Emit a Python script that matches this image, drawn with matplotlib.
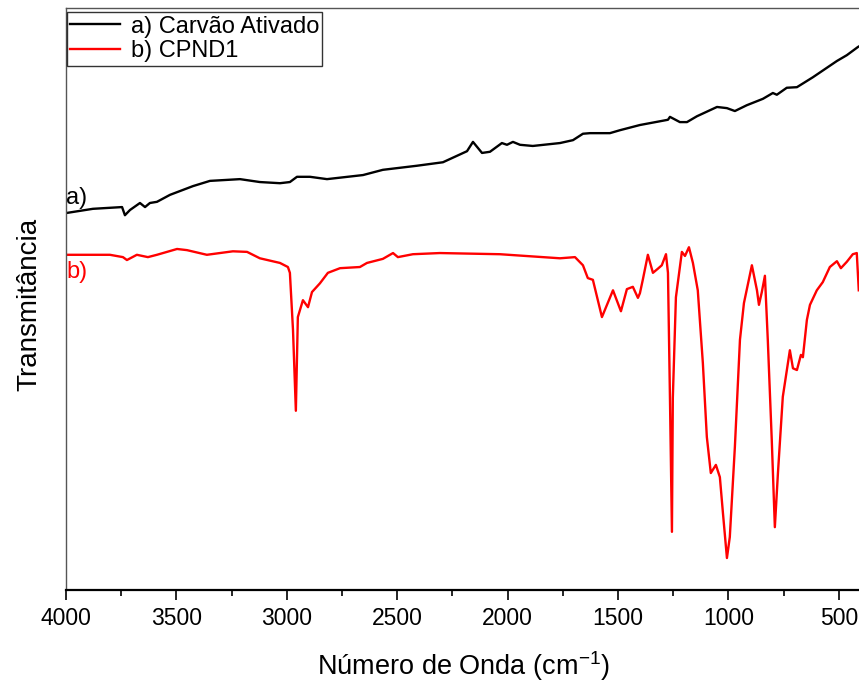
import numpy as np
import matplotlib
matplotlib.use('Agg')
import matplotlib.pyplot as plt
from matplotlib.ticker import MultipleLocator, NullLocator

plt.rcParams['font.family'] = ['Liberation Sans', 'DejaVu Sans']

# FTIR spectra (wavenumber in cm-1, transmittance in arbitrary units)
wn_carvao = [3995, 3878, 3746, 3733, 3710, 3665, 3642, 3620, 3588, 3529,
             3425, 3348, 3212, 3122, 3031, 2986, 2954, 2895, 2818, 2655,
             2565, 2411, 2293, 2184, 2157, 2116, 2080, 2026, 2003, 1976,
             1944, 1886, 1763, 1704, 1659, 1627, 1537, 1492, 1401, 1274,
             1265, 1220, 1188, 1143, 1052, 1007, 971, 917, 844, 799,
             781, 736, 690, 618, 509, 464, 414, 400]
t_carvao = [64.8, 65.5, 65.8, 64.4, 65.3, 66.5, 65.8, 66.5, 66.7, 67.9,
            69.4, 70.3, 70.6, 70.1, 69.9, 70.1, 71.0, 71.0, 70.6, 71.3,
            72.2, 72.9, 73.5, 75.4, 77.0, 75.1, 75.3, 76.8, 76.5, 77.0,
            76.5, 76.3, 76.8, 77.3, 78.4, 78.5, 78.5, 79.0, 79.9, 80.8,
            81.3, 80.4, 80.4, 81.4, 83.0, 82.8, 82.3, 83.3, 84.4, 85.4,
            85.1, 86.3, 86.4, 88.1, 90.9, 91.9, 93.3, 93.6]

wn_cpnd1 = [3995, 3801, 3742, 3724, 3679, 3629, 3588, 3497, 3452, 3362,
            3244, 3180, 3122, 3031, 2995, 2986, 2972, 2959, 2950, 2927,
            2904, 2886, 2850, 2814, 2759, 2669, 2637, 2565, 2519, 2497,
            2429, 2307, 2035, 1763, 1695, 1659, 1637, 1614, 1573, 1523,
            1487, 1460, 1433, 1410, 1401, 1388, 1365, 1342, 1320, 1302,
            1283, 1274, 1265, 1256, 1252, 1238, 1211, 1197, 1179, 1161,
            1139, 1116, 1098, 1080, 1057, 1039, 1025, 1007, 994, 971,
            948, 930, 894, 871, 862, 849, 835, 822, 804, 790,
            776, 754, 722, 708, 690, 672, 663, 645, 631, 600,
            573, 541, 509, 491, 464, 437, 419, 410]
t_cpnd1 = [57.6, 57.6, 57.2, 56.7, 57.6, 57.2, 57.6, 58.6, 58.4, 57.6,
           58.2, 58.1, 57.0, 56.2, 55.5, 54.5, 44.7, 30.8, 46.9, 49.8,
           48.6, 51.2, 52.7, 54.5, 55.3, 55.5, 56.2, 56.9, 57.9, 57.2,
           57.7, 57.9, 57.7, 57.0, 57.2, 55.8, 53.6, 53.3, 46.9, 51.5,
           47.9, 51.7, 52.1, 50.2, 51.0, 53.3, 57.6, 54.5, 55.2, 55.8,
           57.7, 54.5, 33.0, 10.0, 33.0, 50.3, 58.1, 57.4, 58.9, 56.2,
           51.5, 39.0, 26.3, 20.1, 21.5, 19.4, 13.2, 5.5, 9.1, 24.6,
           43.0, 49.3, 55.8, 51.5, 49.0, 51.2, 54.0, 43.0, 25.8, 10.8,
           20.1, 33.2, 41.2, 38.1, 37.8, 40.4, 40.0, 46.4, 49.0, 51.5,
           52.9, 55.5, 56.5, 55.3, 56.4, 57.7, 57.9, 51.5]

fig = plt.figure(figsize=(8.59, 6.86), dpi=100)
ax = fig.add_axes([0.0768, 0.1399, 0.9255, 0.8484])

ax.plot(wn_carvao, t_carvao, color='black', lw=1.7, label='a) Carvão Ativado')
ax.plot(wn_cpnd1, t_cpnd1, color='#ff0000', lw=1.7, label='b) CPND1')

ax.set_xlim(4000, 400)
ax.set_ylim(0, 100)
ax.xaxis.set_major_locator(MultipleLocator(500))
ax.xaxis.set_minor_locator(MultipleLocator(250))
ax.yaxis.set_major_locator(NullLocator())
ax.tick_params(axis='x', which='major', length=7, width=1.2, labelsize=16.5, pad=5)
ax.tick_params(axis='x', which='minor', length=4, width=1.2)

ax.spines['bottom'].set_linewidth(1.6)
for s in ('left', 'top', 'right'):
    ax.spines[s].set_linewidth(1.0)
    ax.spines[s].set_color('#555555')

ax.text(3998, 67.4, 'a)', fontsize=17, color='black', va='center', ha='left')
ax.text(3998, 54.6, 'b)', fontsize=17, color='#ff0000', va='center', ha='left')

ax.set_xlabel('Número de Onda (cm$^{\\mathregular{-1}}$)', fontsize=19.5, labelpad=14)
ax.set_ylabel('Transmitância', fontsize=20, labelpad=17, y=0.49)

leg = ax.legend(loc='upper left', bbox_to_anchor=(0.001, 0.993), borderaxespad=0,
                fontsize=17, frameon=True, fancybox=False,
                handlelength=2.1, handletextpad=0.45,
                borderpad=0.15, labelspacing=0.1)
leg.get_frame().set_edgecolor('black')
leg.get_frame().set_linewidth(1.0)

fig.savefig('out.png', dpi=100)
